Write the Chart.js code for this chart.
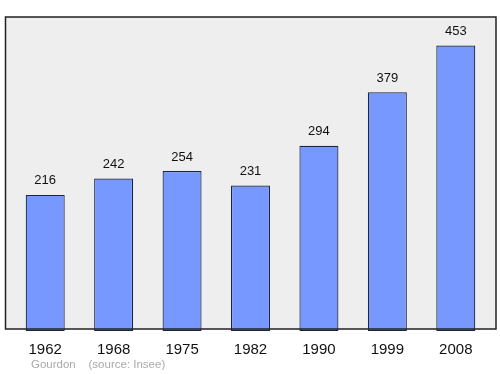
<!DOCTYPE html>
<html>
<head>
<meta charset="utf-8">
<script src="https://cdn.jsdelivr.net/npm/chart.js@4"></script>
<style>
  body { margin: 0; background: #fff; }
</style>
</head>
<body>
<canvas id="popChart" width="500" height="374"></canvas>
<script>
var years = ["1962","1968","1975","1982","1990","1999","2008"];
var population = [216, 242, 254, 231, 294, 379, 453];
var yTicks = [0, 500];
var footerText = "Gourdon    (source: Insee)";

// grey frame behind the bars
var framePlugin = {
  id: 'frame',
  beforeDraw: function(chart) {
    var ctx = chart.ctx;
    ctx.save();
    ctx.fillStyle = '#eeeeee';
    ctx.fillRect(5, 17, 491, 312);
    ctx.restore();
  },
  afterDraw: function(chart) {
    var ctx = chart.ctx;
    ctx.save();
    ctx.strokeStyle = '#222222';
    ctx.lineWidth = 1.5;
    ctx.strokeRect(5.5, 17, 490.5, 312);
    ctx.fillStyle = '#aaaaaa';
    ctx.font = '11.5px "Liberation Sans", Arial, sans-serif';
    ctx.textAlign = 'left';
    ctx.textBaseline = 'middle';
    ctx.fillText(footerText, 31, 365);
    ctx.restore();
  }
};

// numbers on top of each bar
var valuePlugin = {
  id: 'values',
  afterDatasetsDraw: function(chart) {
    var ctx = chart.ctx;
    var meta = chart.getDatasetMeta(0);
    ctx.save();
    ctx.fillStyle = '#111111';
    ctx.font = '13px "Liberation Sans", Arial, sans-serif';
    ctx.textAlign = 'center';
    ctx.textBaseline = 'middle';
    for (var i = 0; i < meta.data.length; i++) {
      var bar = meta.data[i];
      ctx.fillText(population[i], bar.x, bar.y - 14);
    }
    ctx.restore();
  }
};

var canvas = document.getElementById('popChart');
var ctx = canvas.getContext('2d');

var chart = new Chart(ctx, {
  type: 'bar',
  data: {
    labels: years,
    datasets: [{
      data: population,
      backgroundColor: '#7799ff',
      borderColor: '#1a2544',
      borderWidth: 1.2,
      borderSkipped: false,
      categoryPercentage: 1,
      barPercentage: 0.57
    }]
  },
  options: {
    responsive: false,
    animation: false,
    layout: { padding: { left: 11, right: 10, top: 16, bottom: 13 } },
    plugins: { legend: { display: false }, tooltip: { enabled: false } },
    scales: {
      x: {
        grid: { display: false },
        border: { display: false },
        ticks: {
          color: '#111111',
          padding: 2,
          font: { size: 15, family: '"Liberation Sans", Arial, sans-serif' }
        }
      },
      y: {
        display: false,
        min: yTicks[0],
        max: yTicks[1]
      }
    }
  },
  plugins: [framePlugin, valuePlugin]
});
</script>
</body>
</html>
